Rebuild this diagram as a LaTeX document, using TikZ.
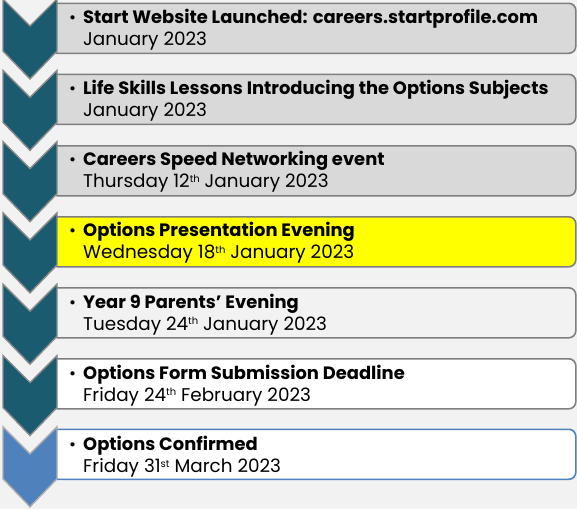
\documentclass[tikz,border=0pt]{standalone}
\usepackage{fontspec}
\setmainfont{Poppins}
\definecolor{bg}{HTML}{F2F2F2}
\definecolor{teal}{HTML}{1B5B70}
\definecolor{chevline}{HTML}{8A8A8A}
\definecolor{boxgray}{HTML}{D9D9D9}
\definecolor{boxline}{HTML}{7F7F7F}
\definecolor{blueA}{HTML}{4F81BD}
\definecolor{yel}{HTML}{FFFF00}
\tikzset{
  evbox/.style={draw=boxline, line width=1.6pt, rounded corners=7pt, inner sep=0pt,
    minimum width=525pt, minimum height=50pt, anchor=north west},
  chev/.style={fill=teal, draw=chevline, line width=1.4pt, line join=miter},
  ttl/.style={anchor=base west, inner sep=0pt, font=\fontsize{17.9}{20}\selectfont\bfseries},
  dte/.style={anchor=base west, inner sep=0pt, font=\fontsize{18.4}{20}\selectfont},
  bul/.style={anchor=base west, inner sep=0pt, font=\fontsize{17}{20}\selectfont},
}
\newcommand{\chevat}[2]{%
  \draw[chev,#2] (3,#1) -- (30,#1+27) -- (57,#1) -- (57,#1+52) -- (30,#1+80) -- (3,#1+52) -- cycle;}
\newcommand{\supx}[1]{\raisebox{0.55ex}{\fontsize{10}{10}\selectfont #1}}
\begin{document}
\begin{tikzpicture}[x=1pt,y=-1pt]
\fill[bg] (0,0) rectangle (577,509);
\useasboundingbox (0,0) rectangle (577,509);
% boxes
\node[evbox, fill=boxgray] (b1) at (50,2.5) {};
\node[evbox, fill=boxgray] (b2) at (50,73.5) {};
\node[evbox, fill=boxgray] (b3) at (50,145) {};
\node[evbox, fill=yel] (b4) at (50,216) {};
\node[evbox, fill=bg] (b5) at (50,287) {};
\node[evbox, fill=white] (b6) at (50,358) {};
\node[evbox, fill=white, draw=blueA] (b7) at (50,428.5) {};
% chevrons
\chevat{-1}{}
\chevat{70.3}{}
\chevat{141.6}{}
\chevat{212.9}{}
\chevat{284.2}{}
\chevat{355.5}{}
\chevat{426.8}{fill=blueA, draw=chevline!70}
% texts
\node[bul] (u1) at (69,23) {•};
\node[ttl] (t1) at (83,23) {Start Website Launched: careers.startprofile.com};
\node[dte] (d1) at (83,45) {January 2023};
\node[bul] (u2) at (69,94.3) {•};
\node[ttl] (t2) at (83,94.3) {Life Skills Lessons Introducing the Options Subjects};
\node[dte] (d2) at (83,116.3) {January 2023};
\node[bul] (u3) at (69,165.6) {•};
\node[ttl] (t3) at (83,165.6) {Careers Speed Networking event};
\node[dte] (d3) at (83,187.6) {Thursday 12\supx{th} January 2023};
\node[bul] (u4) at (69,236.9) {•};
\node[ttl] (t4) at (83,236.9) {Options Presentation Evening};
\node[dte] (d4) at (83,258.9) {Wednesday 18\supx{th} January 2023};
\node[bul] (u5) at (69,308.2) {•};
\node[ttl] (t5) at (83,308.2) {Year 9 Parents’ Evening};
\node[dte] (d5) at (83,330.2) {Tuesday 24\supx{th} January 2023};
\node[bul] (u6) at (69,379.5) {•};
\node[ttl] (t6) at (83,379.5) {Options Form Submission Deadline};
\node[dte] (d6) at (83,401.5) {Friday 24\supx{th} February 2023};
\node[bul] (u7) at (69,450.8) {•};
\node[ttl] (t7) at (83,450.8) {Options Confirmed};
\node[dte] (d7) at (83,472.8) {Friday 31\supx{st} March 2023};
\end{tikzpicture}
\end{document}
